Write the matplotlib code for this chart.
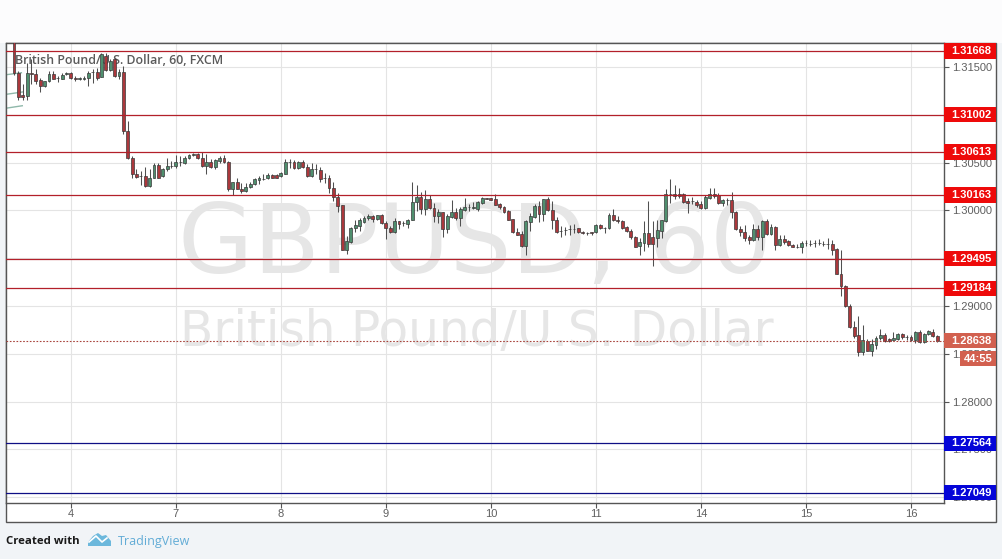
import numpy as np
import matplotlib
matplotlib.use('Agg')
import matplotlib.pyplot as plt
from matplotlib.patches import Rectangle, Polygon
from matplotlib.transforms import blended_transform_factory

W, H = 1002, 559

# prices in 1e-5 units, hourly candles
opens = [131770,131441,131204,131197,131441,131431,131361,131302,131354,131431,131382,131378,
 131424,131441,131385,131372,131372,131382,131452,131452,131396,131616,131469,131581,
 131406,131452,130831,130551,130384,130356,130356,130255,130342,130475,130359,130436,
 130464,130464,130506,130492,130544,130576,130586,130551,130464,130509,130450,130516,
 130551,130509,130220,130300,130227,130202,130244,130272,130318,130332,130335,130366,
 130366,130359,130384,130509,130509,130443,130502,130457,130359,130429,130426,130342,
 130335,130237,130143,130052,129591,129668,129811,129836,129881,129919,129940,129912,
 129947,129871,129815,129773,129885,129864,129857,129899,130087,130143,130010,130115,
 130028,129940,129982,129801,129933,129982,129923,130003,130031,130024,130010,130073,
 130132,130125,130115,130063,130038,129989,129912,129776,129755,129626,129878,129933,
 130042,129958,130115,130003,129905,129780,129794,129804,129808,129811,129776,129766,
 129773,129776,129843,129818,129815,129947,129899,129892,129822,129790,129721,129623,
 129661,129766,129724,129714,129783,129888,130167,130167,130167,130167,130097,130094,
 130090,130063,130028,130132,130167,130157,130073,130104,130104,129986,129801,129776,
 129721,129686,129801,129721,129888,129755,129829,129637,129703,129679,129640,129619,
 129616,129658,129654,129658,129661,129651,129647,129654,129598,129337,129208,129005,
 128782,128698,128516,128639,128534,128597,128666,128701,128656,128649,128660,128712,
 128674,128681,128642,128729,128625,128712,128733,128688]
highs = [131800,131459,131319,131546,131581,131483,131389,131354,131459,131459,131406,131441,
 131452,131448,131406,131399,131406,131459,131483,131494,131651,131644,131588,131598,
 131483,131511,130935,130569,130429,130412,130457,130429,130499,130499,130447,130551,
 130516,130576,130569,130569,130586,130604,130604,130611,130593,130534,130541,130569,
 130576,130516,130300,130335,130283,130283,130297,130335,130359,130384,130387,130377,
 130377,130401,130541,130534,130527,130520,130527,130482,130499,130482,130457,130394,
 130366,130297,130178,130052,129731,129829,129905,129923,129940,129958,129954,129954,
 129958,129888,129836,129923,129885,129888,129912,130296,130265,130192,130209,130157,
 130080,130010,129982,129958,130108,130028,130038,130132,130070,130090,130097,130143,
 130132,130132,130167,130080,130045,130003,129912,129811,129783,129905,129975,130063,
 130097,130115,130143,130097,129933,129836,129829,129843,129853,129818,129783,129773,
 129776,129853,129860,129829,129975,130010,129940,129899,129836,129801,129731,129714,
 129888,130097,129888,129905,129905,130227,130324,130261,130237,130185,130132,130143,
 130108,130097,130157,130230,130230,130185,130122,130132,130195,129993,129836,129846,
 129748,129853,129846,129905,129912,129853,129836,129748,129741,129689,129644,129644,
 129679,129689,129689,129689,129696,129679,129714,129689,129605,129591,129225,129022,
 128841,128893,128799,128656,128656,128684,128761,128719,128666,128726,128719,128719,
 128701,128701,128736,128754,128719,128747,128764,128695]
lows = [131413,131152,131152,131152,131319,131319,131239,131295,131344,131372,131347,131372,
 131413,131378,131354,131365,131365,131302,131337,131365,131396,131462,131459,131399,
 131372,130803,130541,130335,130335,130262,130248,130248,130335,130335,130352,130412,
 130447,130447,130464,130482,130534,130569,130541,130457,130384,130447,130436,130499,
 130492,130202,130157,130220,130185,130195,130237,130265,130272,130314,130325,130335,
 130335,130349,130377,130447,130436,130436,130447,130352,130349,130384,130297,130290,
 130178,130098,129983,129591,129546,129661,129776,129783,129871,129905,129878,129905,
 129860,129696,129766,129766,129808,129836,129815,129895,129993,129958,129947,130017,
 129881,129871,129721,129766,129923,129905,129836,129993,129993,130010,129993,130063,
 130115,130104,130052,130017,129975,129899,129766,129741,129619,129529,129783,129923,
 129878,129888,129993,129801,129766,129721,129738,129738,129766,129766,129755,129748,
 129741,129766,129801,129759,129808,129888,129871,129808,129776,129696,129616,129532,
 129574,129619,129417,129616,129714,129881,130080,130115,130132,130080,129968,130063,
 130038,130010,130017,130122,130132,130070,130045,130056,129923,129794,129731,129679,
 129644,129679,129689,129581,129748,129748,129591,129626,129654,129626,129616,129612,
 129556,129626,129633,129619,129640,129626,129598,129532,129330,129110,128991,128775,
 128666,128482,128492,128527,128475,128555,128649,128628,128628,128642,128649,128660,
 128642,128632,128614,128614,128618,128701,128677,128625]
closes = [131441,131187,131187,131441,131431,131354,131302,131354,131431,131372,131382,131420,
 131441,131385,131378,131382,131389,131441,131452,131389,131633,131469,131563,131406,
 131452,130831,130551,130377,130349,130356,130255,130342,130475,130342,130436,130464,
 130464,130509,130506,130551,130576,130586,130544,130464,130509,130450,130523,130551,
 130506,130220,130300,130227,130202,130248,130279,130325,130342,130332,130366,130342,
 130342,130387,130509,130509,130443,130506,130454,130359,130429,130429,130332,130342,
 130237,130143,130045,129591,129679,129818,129843,129895,129919,129944,129912,129947,
 129871,129815,129773,129885,129857,129864,129905,130090,130143,130010,130115,130028,
 129940,129982,129801,129940,129982,129923,130010,130031,130031,130035,130087,130132,
 130118,130108,130059,130038,129982,129905,129776,129748,129626,129888,129940,130045,
 129958,130115,130003,129899,129776,129780,129794,129804,129808,129773,129766,129766,
 129759,129843,129815,129818,129947,129899,129885,129815,129783,129721,129619,129665,
 129766,129644,129644,129794,129895,130167,130167,130150,130150,130090,130080,130094,
 130056,130021,130143,130167,130150,130080,130108,130104,129982,129801,129773,129714,
 129686,129801,129721,129888,129755,129829,129637,129703,129668,129637,129619,129619,
 129661,129658,129654,129658,129661,129651,129647,129591,129337,129208,128998,128782,
 128691,128516,128642,128534,128607,128666,128701,128639,128635,128666,128712,128674,
 128674,128646,128726,128625,128712,128736,128684,128638]

xtick_pos = [13, 37, 61, 85, 109, 133, 157, 181, 205]
xtick_labels = ['4', '7', '8', '9', '10', '11', '14', '15', '16']
ytick_vals = [1.27, 1.275, 1.28, 1.285, 1.29, 1.295, 1.30, 1.305, 1.31, 1.315]
resistance = [1.31668, 1.31002, 1.30613, 1.30163, 1.29495, 1.29184]
support = [1.27564, 1.27049]
last_price = 1.28638
countdown = '44:55'
stub_x = [[-1.7, 1.7], [-1.7, 2.1], [-1.7, 1.9]]
stub_y = [[1.31420, 1.31440], [1.31215, 1.31240], [1.31070, 1.31095]]

o = np.array(opens) / 1e5
h = np.array(highs) / 1e5
l = np.array(lows) / 1e5
c = np.array(closes) / 1e5
x = np.arange(len(o))

plt.rcParams['font.family'] = ['Liberation Sans', 'DejaVu Sans']

fig = plt.figure(figsize=(W / 100, H / 100), dpi=100, facecolor='#f1f4f7')


def px(a, b):
    return a / W, 1 - b / H


# white strip on top and outer frame
fig.add_artist(Rectangle(px(0, 43), 1, 43 / H, transform=fig.transFigure, fc='#fcfcfd', ec='none', zorder=-2))
fig.add_artist(Rectangle(px(6, 522), 990 / W, 479 / H, transform=fig.transFigure, fc='white', ec='#555555', lw=1, zorder=-1))

ax = fig.add_axes([6 / W, 1 - 503 / H, 938 / W, 460 / H])
ax.set_xlim(-1.82, 212.55)
ax.set_ylim(1.269396, 1.317513)
for s in ax.spines.values():
    s.set_color('#555555')
    s.set_linewidth(1)
ax.yaxis.tick_right()
ax.set_xticks(xtick_pos)
ax.set_xticklabels(xtick_labels)
ax.set_yticks(ytick_vals)
ax.set_yticklabels(['%.5f' % v for v in ytick_vals])
ax.tick_params(axis='both', color='#555555', labelcolor='#5f5f5f', labelsize=8.0, length=3.5, width=0.8)
ax.tick_params(axis='x', pad=1)
ax.tick_params(axis='y', pad=2)
ax.grid(True, color='#e4e4e4', lw=0.8)
ax.set_axisbelow(True)

# watermarks and title
ax.text(*px(475, 237), 'GBPUSD, 60', transform=fig.transFigure, fontsize=70, color='#e6e6e6',
        family=['DejaVu Sans'], ha='center', va='center_baseline', zorder=1)
ax.text(*px(477, 327), 'British Pound/U.S. Dollar', transform=fig.transFigure, fontsize=35, color='#e6e6e6',
        family=['DejaVu Sans'], ha='center', va='center_baseline', zorder=1)
ax.text(*px(15, 60), 'British Pound/U.S. Dollar, 60, FXCM', transform=fig.transFigure, fontsize=8.9,
        color='#5a5a5a', family=['Open Sans', 'DejaVu Sans'], fontweight='semibold', ha='left', va='center', zorder=2)

for xs, ys in zip(stub_x, stub_y):
    ax.plot(xs, ys, color='#8fb8aa', lw=1, zorder=2)

# candles
up = c >= o
body_colors = np.where(up, '#4f8f6e', '#ab383c')
ax.vlines(x, l, h, color='#505050', lw=0.75, zorder=3)
ax.bar(x, c - o, bottom=o, width=0.66, color=body_colors, edgecolor='#3a3a3a', linewidth=0.5, zorder=4)

# horizontal levels
for p in resistance:
    ax.axhline(p, color='#b3202a', lw=0.9, zorder=5)
for p in support:
    ax.axhline(p, color='#0f0f85', lw=0.9, zorder=5)
ax.axhline(last_price, color='#a8443c', lw=0.8, ls=(0, (1.5, 1.5)), zorder=5)

# price tags on the right axis
trans = blended_transform_factory(ax.transAxes, ax.transData)
tag_w = 52 / 938
tag_h = 15.5 / 9560


def tag(p, col):
    ax.add_patch(Rectangle((1, p - tag_h / 2), tag_w, tag_h, transform=trans, fc=col, ec='none', clip_on=False, zorder=6))
    ax.text(1 + 27 / 938, p, '%.5f' % p, transform=trans, color='white', fontsize=8.0, fontweight='bold',
            ha='center', va='center', clip_on=False, zorder=7)


for p in resistance:
    tag(p, '#ee0a0a')
for p in support:
    tag(p, '#0505d8')
tag(last_price, '#d2604f')

fig.add_artist(Rectangle(px(960, 366), 36 / W, 15 / H, transform=fig.transFigure, fc='#d2604f', ec='none', zorder=8))
fig.text(*px(978, 359), countdown, color='white', fontsize=8.0, fontweight='bold', ha='center', va='center', zorder=9)

# footer
fig.text(*px(6, 541), 'Created with', color='#1a1a1a', fontsize=8.2, fontweight='bold',
         family=['Open Sans', 'DejaVu Sans'], ha='left', va='center')
fig.text(*px(118, 541), 'TradingView', color='#62acd6', fontsize=9,
         family=['Open Sans', 'DejaVu Sans'], ha='left', va='center')
cloud = [(88, 546), (88, 542), (93, 536), (98, 533), (102, 536), (106, 535), (111, 541), (111, 546)]
fig.add_artist(Polygon([px(*q) for q in cloud], closed=True, transform=fig.transFigure, fc='#6cb8dc', ec='none'))
zig = [(89, 542), (96, 536), (102, 542), (107, 538)]
fig.add_artist(plt.Line2D(*zip(*[px(*q) for q in zig]), transform=fig.transFigure, color='white', lw=1.2))

fig.savefig('out.png', dpi=100, facecolor=fig.get_facecolor())
